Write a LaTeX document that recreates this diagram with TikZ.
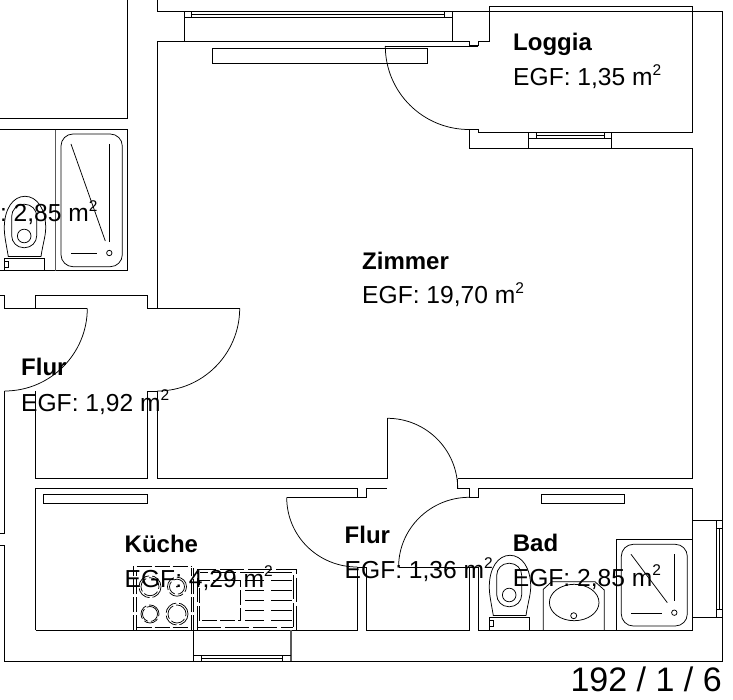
\documentclass[tikz,border=0pt]{standalone}
\usepackage{fontspec}
\setmainfont{Liberation Sans}
\tikzset{
  wall/.style={draw=black,line width=1pt,line join=miter},
  greywall/.style={draw=black!65,line width=1.2pt},
  fine/.style={draw=black,line width=0.75pt},
  kitchen/.style={draw=black,line width=0.75pt,dash pattern=on 15pt off 3pt},
  kitchenb/.style={draw=black,line width=0.75pt,dash pattern=on 24pt off 4pt},
  roomname/.style={anchor=base west,inner sep=0pt,font=\fontsize{24}{26}\selectfont\bfseries},
  roomarea/.style={anchor=base west,inner sep=0pt,font=\fontsize{24.6}{28}\selectfont},
  sheetno/.style={anchor=base east,inner sep=0pt,font=\fontsize{34}{36}\selectfont}
}
\newcommand{\sqm}{ m\raisebox{0.42em}{\fontsize{15.5}{16}\selectfont 2}}
\newcommand{\toilet}[2]{%
  \begin{scope}[shift={(#1,#2)}]
    \draw[fine] (493.3,615.5) .. controls (491,602) and (489.3,595) .. (489.3,586.7)
      .. controls (489.3,568) and (498,555.3) .. (510,555.3)
      .. controls (522,555.3) and (530.7,568) .. (530.7,586.7)
      .. controls (530.7,595) and (528,602) .. (526,615.5) -- cycle;
    \draw[fine,rounded corners=12pt] (496.7,563.3) rectangle (521.7,606.7);
    \draw[fine] (509.2,595) circle[radius=6.8pt];
    \draw[fine] (489.3,630) -- (489.3,617.7) -- (529.3,617.7) -- (529.3,630);
    \draw[fine] (489.3,620) rectangle (493.8,626.7);
  \end{scope}}
\begin{document}
\begin{tikzpicture}[x=1pt,y=-1pt]
\useasboundingbox (0,0) rectangle (733,700);
% outer lines
\draw[wall] (157.3,0) -- (157.3,11.7) -- (722.7,11.7) -- (722.7,661.3) -- (4.7,661.3) -- (4.7,545) -- (0,545);
\draw[wall] (0,533.3) -- (4.7,533.3) -- (4.7,391);
% left flats
\draw[wall] (127.5,0) -- (127.5,118.3) -- (0,118.3);
\draw[wall] (0,129.7) -- (127.5,129.7) -- (127.5,271) -- (0,271);
\draw[greywall] (55.8,129.7) -- (55.8,271);
% left bathtub
\draw[fine,rounded corners=12pt] (61,134) rectangle (122.3,266.7);
\draw[fine] (109.3,144) -- (109.3,241.7);
\draw[fine] (71,144) -- (105.3,241);
\draw[fine] (71,253) -- (97,253);
\draw[fine] (109.3,253) circle[radius=2.7pt];
\toilet{-485}{-359}
% top window
\draw[wall] (184.5,11.7) -- (184.5,41.5);
\draw[wall] (184.5,17.3) -- (452.3,17.3);
\draw[fine] (191.7,11.7) -- (191.7,17.3);
\draw[fine] (191.7,14.5) -- (444,14.5);
\draw[fine] (444,11.7) -- (444,17.3);
\draw[wall] (452.3,11.7) -- (452.3,41.5);
% Zimmer and Loggia contour
\draw[wall] (157.3,308.3) -- (157.3,41.5) -- (469,41.5) -- (469,46) -- (478.3,46) -- (478.3,41.5)
  -- (489.3,41.5) -- (489.3,6.3) -- (692.3,6.3) -- (692.3,133) -- (478.3,133) -- (478.3,129.3)
  -- (469,129.3) -- (469,148.3) -- (692.3,148.3) -- (692.3,478.7) -- (457.7,478.7);
\draw[wall] (212,48.3) rectangle (427.5,64);
% loggia door
\draw[fine] (478.3,46) -- (385.3,46);
\draw[fine] (385.3,46) .. controls (385.3,92.2) and (422.8,129.5) .. (469,129.5);
% loggia window
\draw[wall] (528.3,133) -- (528.3,148.3);
\draw[wall] (611.3,133) -- (611.3,148.3);
\draw[fine] (528.3,138.7) -- (611.3,138.7);
\draw[fine] (536.3,133) -- (536.3,138.7);
\draw[fine] (604.3,133) -- (604.3,138.7);
\draw[fine] (536.3,135.3) -- (604.3,135.3);
% corridor upper
\draw[wall] (0,295.7) -- (4.7,295.7) -- (4.7,308.3) -- (87.3,308.3);
\draw[fine] (87.3,308.3) .. controls (87.3,353.9) and (50.3,391) .. (4.7,391);
\draw[wall] (35.5,308.3) -- (35.5,295.7) -- (147.3,295.7) -- (147.3,308.3) -- (239.7,308.3);
\draw[fine] (239.7,308.3) .. controls (239.7,353.8) and (202.8,391) .. (157.3,391);
\draw[wall] (157.3,478.5) -- (157.3,391) -- (147.3,391) -- (147.3,478.5) -- (35.5,478.5) -- (35.5,391);
\draw[wall] (157.3,478.7) -- (387.3,478.7);
% Zimmer door
\draw[wall] (387.3,478.7) -- (387.3,418.3);
\draw[fine] (387.3,418.3) .. controls (426.2,418.3) and (457.7,449.8) .. (457.7,488.7);
% kitchen contour
\draw[wall] (35.5,630.3) -- (35.5,488.7) -- (357.3,488.7) -- (357.3,497.3);
\draw[fine] (357.3,497.3) -- (286.7,497.3);
\draw[fine] (286.7,497.3) .. controls (286.7,536.3) and (318.3,567) .. (357.3,567);
\draw[wall] (357.3,567) -- (357.3,630.3) -- (35.5,630.3);
\draw[wall] (366.7,497.5) -- (357.3,497.5);
\draw[wall] (366.7,497.5) -- (366.7,488.7) -- (387.3,488.7);
\draw[wall] (357.3,567) -- (366.7,567) -- (366.7,630.3) -- (469.3,630.3) -- (469.3,567);
\draw[wall] (43.3,494) rectangle (147.3,503.3);
% bath contour
\draw[wall] (457.7,478.7) -- (457.7,488.7) -- (469.3,488.7) -- (469.3,497.3) -- (478.7,497.3)
  -- (478.7,488.7) -- (692.3,488.7) -- (692.3,630.3) -- (478.7,630.3) -- (478.7,567);
\draw[fine] (469.3,497.3) .. controls (430.6,497.3) and (398.6,528.3) .. (398.6,567);
\draw[fine] (398.6,567) -- (478.7,567);
\draw[wall] (541.3,494) rectangle (624.3,503.3);
% right window
\draw[wall] (692.3,520.7) -- (722.7,520.7);
\draw[wall] (692.3,617.7) -- (722.7,617.7);
\draw[fine] (716.5,520.7) -- (716.5,617.7);
\draw[fine] (719,528.3) -- (719,609.3);
\draw[fine] (716.5,528.3) -- (722.7,528.3);
\draw[fine] (716.5,609.3) -- (722.7,609.3);
% kitchen window
\draw[wall] (193.7,630.3) -- (193.7,661.3);
\draw[greywall] (291,630.3) -- (291,661.3);
\draw[fine] (193.7,655.3) -- (291,655.3);
\draw[fine] (201.3,655.3) -- (201.3,661.3);
\draw[fine] (282.7,655.3) -- (282.7,661.3);
\draw[fine] (201.3,658.3) -- (282.7,658.3);
% stove
\draw[kitchen] (133.5,630.3) -- (133.5,566);
\draw[kitchen] (136.7,630) -- (136.7,570);
\draw[kitchen] (136.7,566.7) -- (191,566.7);
\draw[kitchen] (136.7,627) -- (191,627);
\draw[kitchen] (191.5,630.3) -- (191.5,568);
\draw[kitchen] (193.7,630.3) -- (193.7,568);
\draw[kitchen] (150,586.7) circle[radius=11pt];
\draw[kitchen] (150,586.7) circle[radius=9pt];
\draw[kitchen] (177,586.7) circle[radius=9.5pt];
\draw[kitchen] (177,586.7) circle[radius=7.5pt];
\fill (177,586.7) circle[radius=1pt];
\draw[kitchen] (150,614) circle[radius=9pt];
\draw[kitchen] (150,614) circle[radius=7.5pt];
\draw[kitchen] (177,614) circle[radius=11pt];
\draw[kitchen] (177,614) circle[radius=9pt];
% sink unit
\draw[kitchenb] (197.3,630.3) -- (197.3,569.3) -- (296,569.3) -- (296,630.3);
\draw[kitchenb] (293.3,627) -- (293.3,572.7) -- (200,572.7);
\draw[kitchenb] (197.3,627) -- (293.3,627);
\draw[kitchen] (199.3,620.7) -- (199.3,580.7) -- (240,580.7) -- (240,620.7) -- (199.3,620.7);
\foreach \yy in {580.7,590,600,610,620.7}{
  \draw[fine] (245,\yy) -- (264,\yy);
  \draw[fine] (271,\yy) -- (291.5,\yy);
}
% bath fittings
\draw[wall] (616.3,630.3) -- (616.3,539) -- (692.3,539);
\draw[fine,rounded corners=12pt] (621.3,544.3) rectangle (687.3,626);
\draw[fine] (674.3,554.3) -- (674.3,600.7);
\draw[fine] (631,554.3) -- (667.3,602.7);
\draw[fine] (631,613.3) -- (661.7,613.3);
\draw[fine] (674.3,612.7) circle[radius=2.7pt];
\toilet{0}{0}
\draw[fine] (543.3,630.3) -- (543.3,589.3) -- (551.7,581.7) -- (595,581.7) -- (604.3,590) -- (604.3,630.3);
\draw[fine] (574.2,602.5) ellipse[x radius=24.8pt,y radius=18.2pt];
\draw[fine] (573.7,615.7) circle[radius=3pt];
% labels
\node[roomname] (loggia) at (513,51) {Loggia};
\node[roomarea] (loggiaarea) at (513,85.5) {EGF: 1,35\sqm};
\node[roomname] (zimmer) at (362,270) {Zimmer};
\node[roomarea] (zimmerarea) at (362,304) {EGF: 19,70\sqm};
\node[roomname] (flura) at (21,375.5) {Flur};
\node[roomarea] (fluraarea) at (21,411) {EGF: 1,92\sqm};
\node[roomname] (kueche) at (124.5,552.3) {Küche};
\node[roomarea] (kuechearea) at (124.5,587) {EGF: 4,29\sqm};
\node[roomname] (flurb) at (344.5,543.5) {Flur};
\node[roomarea] (flurbarea) at (344.5,578.5) {EGF: 1,36\sqm};
\node[roomname] (bad) at (512.7,551) {Bad};
\node[roomarea] (badarea) at (512.7,586) {EGF: 2,85\sqm};
\node[roomarea] (nachbar) at (0,222) {:\kern-2.5pt{} 2,85\sqm};
\node[sheetno] (blatt) at (722,691.7) {192 / 1 / 6};
\end{tikzpicture}
\end{document}
